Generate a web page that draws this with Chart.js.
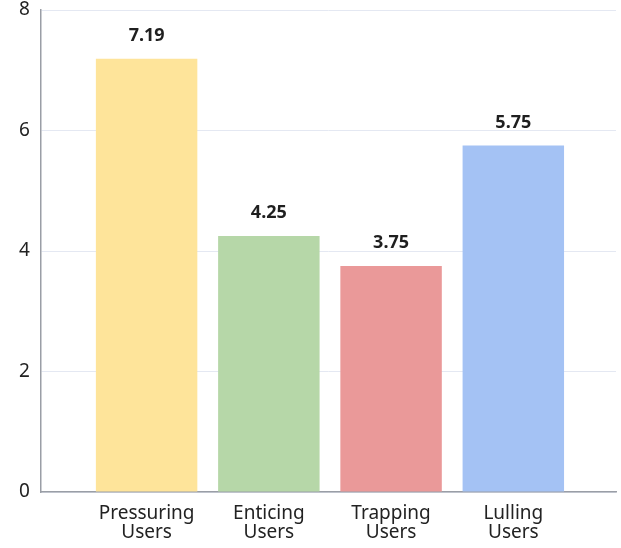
<!DOCTYPE html>
<html>
<head>
<meta charset="utf-8">
<script src="https://cdn.jsdelivr.net/npm/chart.js@4"></script>
<style>
  html, body { margin: 0; padding: 0; background: #fff; }
  #wrap { width: 621px; height: 548px; }
</style>
</head>
<body>
<div id="wrap"><canvas id="barChart"></canvas></div>
<script>
const categories = [["Pressuring", "Users"], ["Enticing", "Users"], ["Trapping", "Users"], ["Lulling", "Users"]];
const values = [7.19, 4.25, 3.75, 5.75];
const barColors = ["#fee49a", "#b6d7a8", "#ea9999", "#a4c2f4"];
const yTicks = [0, 2, 4, 6, 8];

const FONT = "'Noto Sans', 'Open Sans', sans-serif";

// value labels above each bar
const valueLabels = {
  id: "valueLabels",
  afterDatasetsDraw(chart) {
    const ctx = chart.ctx;
    const meta = chart.getDatasetMeta(0);
    ctx.save();
    ctx.font = "bold 18px " + FONT;
    ctx.fillStyle = "#1f1f1f";
    ctx.textAlign = "center";
    ctx.textBaseline = "middle";
    meta.data.forEach((bar, i) => {
      ctx.fillText(values[i].toFixed(2), bar.x, bar.y - 23);
    });
    ctx.restore();
  }
};

new Chart(document.getElementById("barChart"), {
  type: "bar",
  data: {
    datasets: [{
      data: values.map((v, i) => ({ x: i, y: v })),
      backgroundColor: barColors,
      borderWidth: 0,
      barPercentage: 0.83,
      categoryPercentage: 1
    }]
  },
  options: {
    responsive: true,
    maintainAspectRatio: false,
    animation: false,
    layout: { padding: { top: 10, right: 5, bottom: 0, left: 8 } },
    plugins: { legend: { display: false }, tooltip: { enabled: false } },
    scales: {
      x: {
        type: "linear",
        offset: false,
        min: -0.865,
        max: 3.84,
        grid: { display: false, drawTicks: false },
        border: { color: "#9a9ea6", width: 1.5 },
        afterBuildTicks: axis => { axis.ticks = categories.map((c, i) => ({ value: i })); },
        afterFit: axis => { axis.height = 56; },
        ticks: {
          padding: 12,
          color: "#222",
          font: { family: FONT, size: 19, lineHeight: 1.0 },
          maxRotation: 0,
          autoSkip: false,
          callback: v => categories[v]
        }
      },
      y: {
        min: 0,
        max: 8,
        afterBuildTicks: axis => { axis.ticks = yTicks.map(v => ({ value: v })); },
        afterFit: axis => { axis.paddingTop = 0; axis.paddingBottom = 0; },
        grid: { color: "#e4e8f2", drawTicks: false, lineWidth: 1 },
        border: { color: "#9a9ea6", width: 1.5 },
        ticks: {
          padding: 11,
          color: "#222",
          font: { family: FONT, size: 19 }
        }
      }
    }
  },
  plugins: [valueLabels]
});
</script>
</body>
</html>
